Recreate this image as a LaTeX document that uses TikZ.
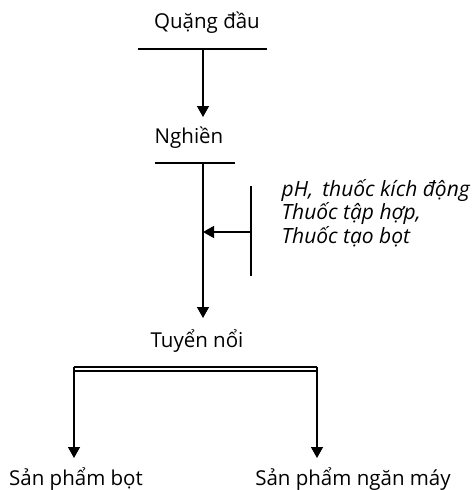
\documentclass[tikz,border=0pt]{standalone}
\usepackage{fontspec}
\setmainfont{Open Sans}
\usetikzlibrary{arrows.meta}
\begin{document}
\begin{tikzpicture}[x=1pt,y=-1pt,
  line width=1.4pt,
  flow/.style={-{Triangle[width=12pt,length=11pt]}},
  lbl/.style={font=\fontsize{20.5}{24}\selectfont, inner sep=0pt, anchor=base},
  addlbl/.style={font=\fontsize{21}{20}\selectfont\itshape, inner sep=0pt, align=left, anchor=base west}]
\useasboundingbox (0,0) rectangle (472,490);
% stage labels (placed by baseline)
\node[lbl] (ore) at (207,28) {Quặng đầu};
\node[lbl] (grind) at (189,143) {Nghiền};
\node[lbl] (flot) at (197,347) {Tuyển nổi};
\node[lbl] (froth) at (76,485) {Sản phẩm bọt};
\node[lbl] (tail) at (353,485) {Sản phẩm ngăn máy};
% reagents (anchored at the baseline of the last line)
\node[addlbl] (reag) at (281,243) {pH,\, thuốc kích động\\Thuốc tập hợp,\\Thuốc tạo bọt};
% bars under stages
\coordinate (b1l) at (138,49); \coordinate (b1r) at (267,49); \coordinate (b1) at (203,49);
\coordinate (b2l) at (155,163); \coordinate (b2r) at (235,163); \coordinate (b2) at (203,163);
\coordinate (t1) at (203,117); \coordinate (t2) at (203,318);
\draw (b1l) -- (b1r);
\draw (b2l) -- (b2r);
% reagent feed line
\coordinate (rt) at (251,186); \coordinate (rb) at (251,276); \coordinate (rm) at (251,232);
\coordinate (jn) at (203,232);
\draw (rt) -- (rb);
% main flow
\draw[flow] (b1) -- (t1);
\draw[flow] (b2) -- (t2);
\draw[flow] (rm) -- (jn);
% split bar (double line)
\coordinate (sl) at (74,367); \coordinate (sr) at (317,367);
\coordinate (sl2) at (74,371); \coordinate (sr2) at (317,371);
\coordinate (f1) at (74,458); \coordinate (f2) at (317,458);
\draw[line width=1.2pt] (sl) -- (sr);
\draw[line width=1.2pt] (sl2) -- (sr2);
\draw[flow] (sl) -- (f1);
\draw[flow] (sr) -- (f2);
\end{tikzpicture}
\end{document}
